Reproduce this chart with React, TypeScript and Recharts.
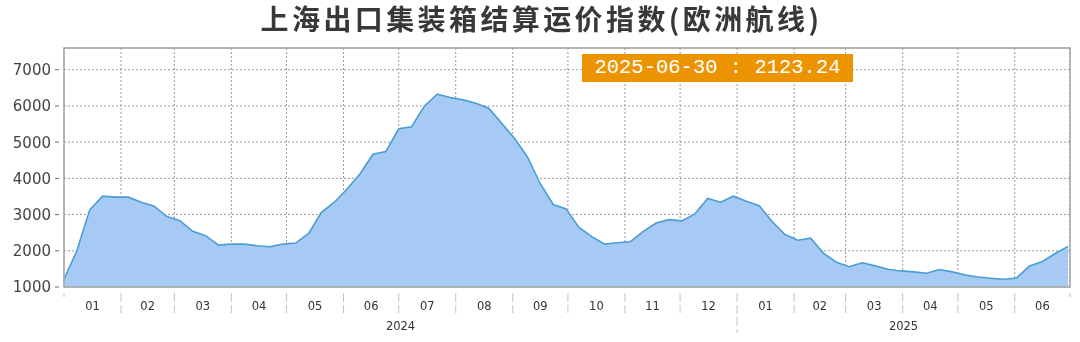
import { Area, AreaChart, CartesianGrid, ReferenceArea, XAxis, YAxis } from 'recharts';

// SCFIS Europe, weekly, starting Monday 2024-01-01
const startDay = Date.UTC(2024, 0, 1);
const DAY = 86400000;

const weekValues = [
  1214, 2000, 3130, 3508, 3481, 3481, 3342, 3231, 2944, 2833,
  2537, 2417, 2157, 2185, 2185, 2139, 2111, 2185, 2213, 2481,
  3064, 3342, 3713, 4130, 4667, 4740, 5370, 5425, 5999, 6325,
  6231, 6167, 6074, 5935, 5519, 5102, 4592, 3852, 3278, 3157,
  2647, 2389, 2185, 2222, 2250, 2537, 2765, 2861, 2825, 3019,
  3445, 3342, 3508, 3369, 3245, 2810, 2450, 2290, 2347, 1930,
  1685, 1560, 1670, 1583, 1491, 1444, 1417, 1381, 1481, 1417,
  1333, 1278, 1242, 1214, 1250, 1583, 1703, 1925, 2123.24,
];

const yTicks = [1000, 2000, 3000, 4000, 5000, 6000, 7000];
const yDomain = [1000, 7600];

// month boundaries Jan 2024 .. Jul 2025
const monthStarts = Array.from({ length: 19 }, (_, m) => (Date.UTC(2024, m, 1) - startDay) / DAY);
const monthLabels = ['01', '02', '03', '04', '05', '06', '07', '08', '09', '10', '11', '12', '01', '02', '03', '04', '05', '06'];
const yearLabels = ['2024', '2025'];
const yearEdges = [monthStarts[0], monthStarts[12], monthStarts[18]];

const monthMids = monthLabels.map((_, i) => (monthStarts[i] + monthStarts[i + 1]) / 2);
const yearMids = yearLabels.map((_, i) => (yearEdges[i] + yearEdges[i + 1]) / 2);
const xMax = monthStarts[18];

const data = weekValues.map((v, i) => ({ d: i * 7, v }));

const lastDate = new Date(startDay + data[data.length - 1].d * DAY).toISOString().slice(0, 10);
const lastValue = weekValues[weekValues.length - 1].toFixed(2);

const axisFont = '"DejaVu Sans", sans-serif';

const EdgeTick = ({ x, y, payload }: any) => {
  const v = payload.value;
  if (v === 0 || v === xMax) {
    return <line x1={x} x2={x} y1={y + 6} y2={y + 10} stroke='#bbb' />;
  }
  const long = v === yearEdges[1];
  return <line x1={x} x2={x} y1={y + 6} y2={long ? y + 46 : y + 26} stroke='#c4c4c4' strokeDasharray='9 3' />;
};

const MonthTick = ({ x, y, index }: any) => (
  <text x={x} y={y + 16.5} textAnchor='middle' fontSize={11.5} fill='#333' fontFamily={axisFont}>
    {monthLabels[index]}
  </text>
);

const YearTick = ({ x, y, index }: any) => (
  <text x={x} y={y + 6.5} textAnchor='middle' fontSize={11.5} fill='#333' fontFamily={axisFont}>
    {yearLabels[index]}
  </text>
);

const ValueTick = ({ x, y, payload }: any) => (
  <g>
    <line x1={x - 9} x2={x - 5} y1={y} y2={y} stroke='#666' />
    <text x={x - 13} y={y} dy='0.36em' textAnchor='end' fontSize={15} fill='#444' fontFamily={axisFont}>
      {payload.value}
    </text>
  </g>
);

export default function App() {
  return (
    <div style={{ position: 'fixed', left: 0, top: 0, width: 1080, height: 342, background: '#fff' }}>
      <div
        style={{
          position: 'absolute',
          left: 0,
          top: -1,
          width: 1080,
          paddingLeft: 3,
          boxSizing: 'border-box',
          textAlign: 'center',
          fontFamily: '"Noto Sans CJK SC", sans-serif',
          fontSize: 28,
          fontWeight: 'bold',
          letterSpacing: 3.4,
          lineHeight: '38px',
          color: '#383838',
        }}
      >
        上海出口集装箱结算运价指数(欧洲航线)
      </div>

      <AreaChart width={1080} height={342} data={data} margin={{ top: 48, right: 10, left: 0, bottom: 0 }}>
        <CartesianGrid xAxisId='edges' stroke='#999' strokeDasharray='2 2' />
        <XAxis
          xAxisId='edges'
          dataKey='d'
          type='number'
          domain={[0, xMax]}
          ticks={monthStarts}
          interval={0}
          height={6}
          tickSize={0}
          tickMargin={0}
          axisLine={false}
          tick={<EdgeTick />}
        />
        <XAxis
          xAxisId='months'
          dataKey='d'
          type='number'
          domain={[0, xMax]}
          ticks={monthMids}
          interval={0}
          height={30}
          tickSize={0}
          tickMargin={0}
          axisLine={false}
          tick={<MonthTick />}
        />
        <XAxis
          xAxisId='years'
          dataKey='d'
          type='number'
          domain={[0, xMax]}
          ticks={yearMids}
          interval={0}
          height={19}
          tickSize={0}
          tickMargin={0}
          axisLine={false}
          tick={<YearTick />}
        />
        <YAxis
          domain={yDomain}
          ticks={yTicks}
          interval={0}
          width={64}
          tickSize={0}
          tickMargin={0}
          axisLine={false}
          tick={<ValueTick />}
        />
        <Area
          xAxisId='edges'
          type='linear'
          dataKey='v'
          stroke='#4a9dd2'
          strokeWidth={1.6}
          fill='#a6caf4'
          fillOpacity={1}
          dot={false}
          activeDot={false}
          isAnimationActive={false}
        />
        <ReferenceArea
          xAxisId='edges'
          x1={0}
          x2={xMax}
          y1={yDomain[0]}
          y2={yDomain[1]}
          fill='none'
          stroke='#a4a4a4'
          strokeWidth={1.5}
        />
      </AreaChart>

      <div
        style={{
          position: 'absolute',
          left: 582,
          top: 54,
          width: 271,
          height: 28,
          background: '#ec9400',
          color: '#fff',
          fontFamily: '"Liberation Mono", monospace',
          fontSize: 20.5,
          lineHeight: '28px',
          textAlign: 'center',
          whiteSpace: 'pre',
        }}
      >
        {`${lastDate} : ${lastValue}`}
      </div>
    </div>
  );
}
